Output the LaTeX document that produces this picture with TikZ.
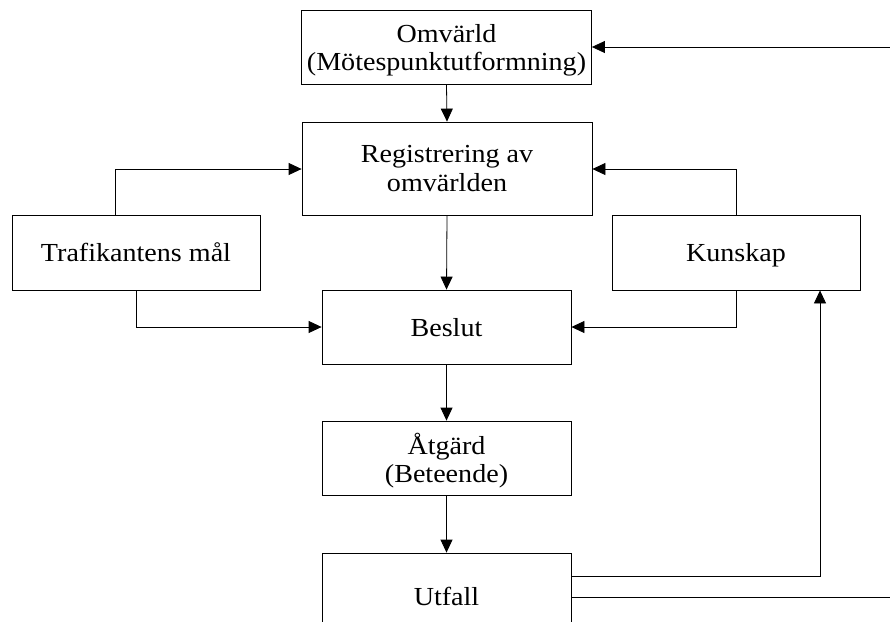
\documentclass[tikz,border=0pt]{standalone}
\usepackage{fontspec}
\setmainfont{Liberation Serif}[FakeStretch=1.08]
\usetikzlibrary{arrows.meta}
\begin{document}
\begin{tikzpicture}[x=1pt,y=-1pt,
  box/.style={draw, line width=0.8pt, inner sep=0pt, align=center,
    font=\fontsize{26}{28.5}\selectfont, text depth=0pt},
  conn/.style={line width=0.8pt, -{Triangle[length=13pt,width=12pt]}},
  plain/.style={line width=0.8pt}]
\clip (0,0) rectangle (890,621);
\useasboundingbox (0,0) rectangle (890,621);

\node[box, minimum width=290, minimum height=74] (omv) at (446.5,47.5) {Omvärld\\(Mötespunktutformning)};
\node[box, minimum width=290, minimum height=93] (reg) at (447,168.5) {Registrering av\\omvärlden};
\node[box, minimum width=248, minimum height=75] (traf) at (136,252.5) {Trafikantens mål};
\node[box, minimum width=248, minimum height=75] (kun) at (736,252.5) {Kunskap};
\node[box, minimum width=249, minimum height=74] (bes) at (446.5,327) {Beslut};
\node[box, minimum width=249, minimum height=74] (atg) at (446.5,458) {Åtgärd\\(Beteende)};
\node[box, minimum width=249, minimum height=86] (utf) at (446.5,596) {Utfall};

\coordinate (in) at (890,47);
\coordinate (out) at (890,597);

\draw[conn] (in) -- (omv.east |- in);
\draw[conn] (omv.south) -- (reg.north);
\draw[conn] (reg.south) -- (bes.north);
\draw[conn] (bes.south) -- (atg.north);
\draw[conn] (atg.south) -- (utf.north);

\draw[conn] (traf.north -| 115,0) |- (reg.west |- 0,169);
\draw[conn] (kun.north) |- (reg.east |- 0,169);
\draw[conn] (traf.south) |- (bes.west);
\draw[conn] (kun.south) |- (bes.east);

\draw[conn] (utf.east |- 0,576) -| (kun.south -| 820,0);
\draw[plain] (utf.east |- out) -- (out);
\end{tikzpicture}
\end{document}
